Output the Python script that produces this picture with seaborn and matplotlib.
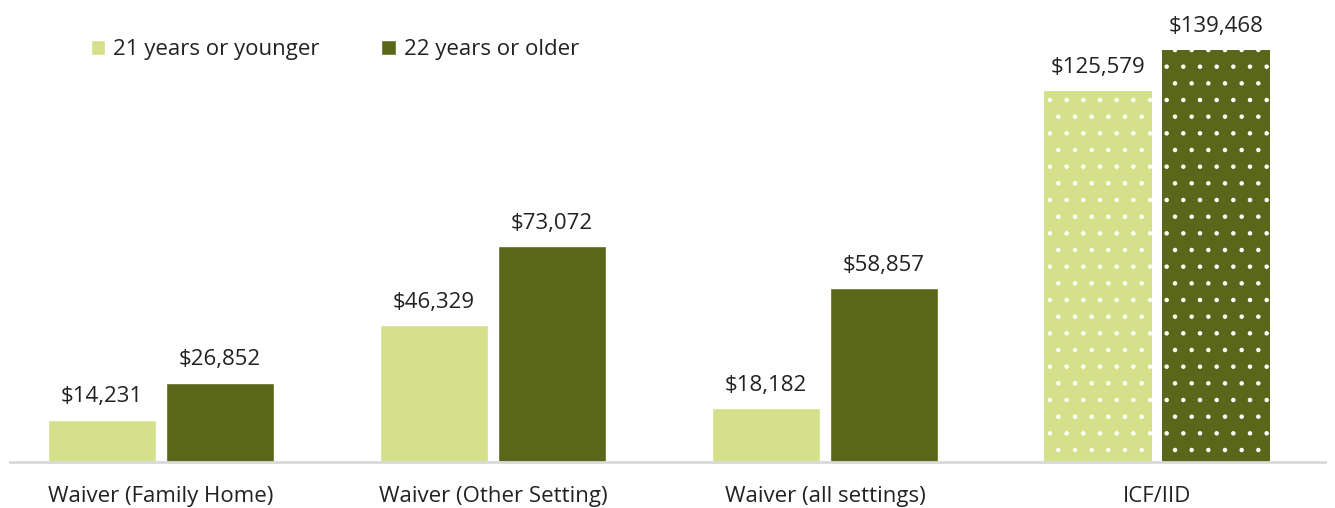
import numpy as np
import pandas as pd
import seaborn as sns
import matplotlib.pyplot as plt

categories = ["Waiver (Family Home)", "Waiver (Other Setting)", "Waiver (all settings)", "ICF/IID"]
age_groups = ["21 years or younger", "22 years or older"]
younger = [14231, 46329, 18182, 125579]
older = [26852, 73072, 58857, 139468]

df = pd.DataFrame({
    "setting": categories * 2,
    "age": [age_groups[0]] * 4 + [age_groups[1]] * 4,
    "cost": younger + older,
})

sns.set_style("white")
plt.rcParams["font.family"] = ["Open Sans", "DejaVu Sans"]
plt.rcParams["hatch.linewidth"] = 0.8

fig = plt.figure(figsize=(13.35, 5.08), dpi=100)
ax = fig.add_axes([0.0075, 0.0906, 0.985, 0.8898])

pal = ["#D4E08A", "#5A6619"]
sns.barplot(data=df, x="setting", y="cost", hue="age", palette=pal,
            width=0.71, gap=0.08, saturation=1, ax=ax)

# dotted fill for the ICF/IID bars
for cont in ax.containers:
    bar = cont.patches[3]
    bar.set_hatch(".")
    bar.set_edgecolor("white")
    bar.set_linewidth(0)
    ax.bar_label(cont, labels=[f"${v:,.0f}" for v in cont.datavalues],
                 padding=9, fontsize=16, color="#222222")

ax.set_xlim(-0.455, 3.506)
ax.set_ylim(0, 153009)
ax.set_xlabel("")
ax.set_ylabel("")
ax.set_yticks([])
ax.tick_params(axis="x", length=0, pad=17, labelsize=16, labelcolor="#222222")
for s in ["top", "left", "right"]:
    ax.spines[s].set_visible(False)
ax.spines["bottom"].set_color("#D9D9D9")
ax.spines["bottom"].set_linewidth(2)

handles, labels = ax.get_legend_handles_labels()
ax.legend(handles, labels, loc="upper left", bbox_to_anchor=(0.046, 0.98), ncol=2,
          frameon=False, fontsize=16, handlelength=0.65, handleheight=0.65,
          handletextpad=0.35, columnspacing=2.8, labelcolor="#222222")

plt.savefig("out.png", dpi=100)
